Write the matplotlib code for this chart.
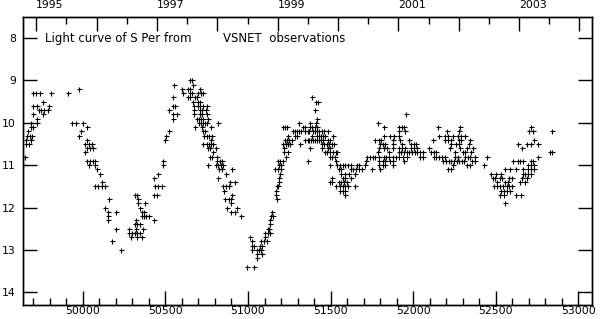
import matplotlib
matplotlib.use("Agg")
import matplotlib.pyplot as plt
from matplotlib.ticker import MultipleLocator, FixedLocator

# visual estimates: each row is (magnitude, [JD - 2400000, ...])
season_1995 = [
    (9.3, [49701, 49717, 49742, 49810]),
    (9.5, [49762]),
    (9.6, [49701, 49725, 49798]),
    (9.7, [49734, 49750, 49766, 49792]),
    (9.8, [49701, 49758]),
    (9.9, [49725]),
    (10.0, [49685, 49725]),
    (10.1, [49685, 49701]),
    (10.2, [49669]),
    (10.3, [49665, 49681, 49693]),
    (10.4, [49657, 49689]),
    (10.5, [49657, 49673]),
    (10.8, [49653]),
    (11.0, [49640]),
]

season_1996 = [
    (9.2, [49979]),
    (9.3, [49913]),
    (10.0, [49935, 49960, 50004]),
    (10.1, [50024]),
    (10.2, [49992]),
    (10.3, [49979]),
    (10.4, [50028]),
    (10.5, [50016, 50036, 50056]),
    (10.6, [50028, 50044, 50060]),
    (10.7, [50016]),
    (10.9, [50028, 50044, 50060, 50075]),
    (11.0, [50040, 50074]),
    (11.1, [50085]),
    (11.2, [50105]),
    (11.4, [50115]),
    (11.5, [50075, 50095, 50115, 50135]),
    (11.8, [50161]),
    (12.0, [50135]),
    (12.1, [50155, 50202]),
    (12.2, [50155]),
    (12.3, [50155]),
    (12.5, [50202]),
    (12.8, [50179]),
    (13.0, [50234]),
]

season_1997 = [
    (11.7, [50317, 50331, 50432, 50448]),
    (11.8, [50335]),
    (11.9, [50335, 50375]),
    (12.0, [50347]),
    (12.1, [50357, 50371]),
    (12.2, [50357, 50371, 50385, 50403]),
    (12.3, [50321, 50428]),
    (12.4, [50317, 50331, 50347]),
    (12.5, [50282, 50325, 50367]),
    (12.6, [50282, 50298, 50315, 50331, 50347]),
    (12.7, [50290, 50331, 50357]),
    (11.5, [50438, 50458, 50478]),
    (11.3, [50432]),
    (11.2, [50458]),
    (11.0, [50488]),
    (10.9, [50484]),
    (10.4, [50500]),
    (10.3, [50504]),
    (10.2, [50524]),
    (9.9, [50548]),
    (9.8, [50548, 50572]),
    (9.7, [50524]),
    (9.6, [50548, 50560]),
    (9.4, [50548]),
    (9.1, [50555]),
]

season_1998 = [
    (9.0, [50651, 50663]),
    (9.1, [50670]),
    (9.2, [50603, 50639, 50651, 50712]),
    (9.3, [50609, 50651, 50663, 50699, 50714, 50730]),
    (9.4, [50639, 50651, 50680, 50692]),
    (9.5, [50670, 50700, 50712]),
    (9.6, [50676, 50700, 50712, 50730, 50754]),
    (9.7, [50676, 50712, 50724, 50748]),
    (9.8, [50676, 50712, 50724, 50754]),
    (9.9, [50694, 50706, 50718, 50730, 50760]),
    (10.0, [50706, 50718, 50730, 50742, 50754, 50821]),
    (10.1, [50682, 50724, 50778]),
    (10.2, [50730, 50742]),
    (10.3, [50736, 50754, 50766, 50784]),
    (10.4, [50777]),
    (10.5, [50730, 50754, 50766, 50778, 50790]),
    (10.6, [50760, 50772, 50809]),
    (10.7, [50791]),
    (10.8, [50772, 50784, 50815]),
    (10.9, [50815, 50833, 50845]),
    (11.0, [50760, 50809, 50821, 50839, 50851]),
    (11.1, [50827, 50841, 50905]),
    (11.2, [50867]),
    (11.3, [50821]),
    (11.4, [50893, 50923]),
    (11.5, [50851, 50867, 50884]),
    (11.6, [50855]),
    (11.7, [50905]),
    (11.8, [50863, 50887, 50899]),
    (11.9, [50899]),
    (12.0, [50875, 50932]),
    (12.1, [50899, 50923]),
    (12.2, [50960]),
]

season_1999 = [
    (13.4, [50996, 51039]),
    (13.2, [51057]),
    (13.1, [51053, 51087]),
    (13.0, [51023, 51057, 51069, 51081]),
    (12.9, [51027, 51039, 51073, 51087]),
    (12.8, [51023, 51081, 51097, 51113]),
    (12.7, [51013, 51104]),
    (12.6, [51104, 51118, 51134]),
    (12.5, [51118, 51126]),
    (12.4, [51134]),
    (12.3, [51134]),
    (12.2, [51138, 51154]),
    (12.1, [51148]),
    (11.8, [51178]),
    (11.7, [51170]),
    (11.6, [51172]),
    (11.5, [51174, 51184]),
    (11.4, [51190]),
    (11.3, [51190]),
    (11.2, [51194]),
    (11.1, [51166, 51184, 51202]),
    (11.0, [51190, 51200]),
    (10.9, [51182, 51194, 51210, 51366]),
    (10.8, [51232, 51497, 51511, 51525]),
    (10.7, [51220, 51245, 51466, 51480, 51495, 51517, 51530]),
    (10.6, [51220, 51376, 51446, 51487, 51499]),
    (10.5, [51214, 51228, 51242, 51255, 51316, 51446, 51460, 51476, 51490, 51506, 51523]),
    (10.4, [51226, 51238, 51250, 51265, 51346, 51360, 51372, 51384, 51396, 51408,
            51420, 51432, 51444, 51456, 51487, 51499]),
    (10.3, [51245, 51287, 51299, 51386, 51416, 51428, 51440, 51452, 51466, 51513]),
    (10.2, [51275, 51287, 51299, 51311, 51323, 51347, 51360, 51372, 51396, 51408,
            51420, 51432, 51450, 51462, 51486]),
    (10.1, [51214, 51226, 51238, 51335, 51347, 51378, 51390, 51408, 51420]),
    (10.0, [51311, 51378, 51414]),
    (9.9, [51420]),
    (9.7, [51408]),
    (9.5, [51414, 51426]),
    (9.4, [51386]),
]

season_2000 = [
    (9.8, [51957]),
    (10.0, [51789]),
    (10.1, [51820, 51912, 51929, 51941]),
    (10.2, [51912, 51953]),
    (10.3, [51820, 51860, 51884, 51912]),
    (10.4, [51768, 51792, 51804, 51876, 51921, 51977]),
    (10.5, [51800, 51816, 51832, 51880, 51929, 51986, 52002, 52018]),
    (10.6, [51792, 51820, 51840, 51876, 51912, 51929, 51953, 51986, 52006, 52022]),
    (10.7, [51537, 51784, 51852, 51912, 51925, 51941, 51961, 51977, 51994, 52010, 52022]),
    (10.8, [51723, 51739, 51755, 51771, 51792, 51820, 51836, 51856, 51876, 51896,
            51916, 51937, 51961]),
    (10.9, [51533, 51715, 51792, 51816, 51832, 51860, 51876, 51941]),
    (11.0, [51497, 51541, 51557, 51573, 51589, 51606, 51622, 51658, 51670, 51707,
            51792, 51816, 51832, 51876]),
    (11.1, [51549, 51565, 51622, 51638, 51654, 51670, 51687, 51751, 51800]),
    (11.2, [51565, 51589, 51614, 51646]),
    (11.3, [51509, 51573, 51589, 51622]),
    (11.4, [51497, 51509, 51549, 51565, 51581, 51597]),
    (11.5, [51533, 51557, 51573, 51589, 51605, 51650]),
    (11.6, [51557, 51573, 51589]),
    (11.7, [51589]),
]

season_2001 = [
    (10.1, [52152, 52280]),
    (10.2, [52203, 52276]),
    (10.3, [52155, 52195, 52211, 52243, 52268, 52292, 52316]),
    (10.4, [52119, 52195, 52211, 52227, 52276, 52292, 52345]),
    (10.5, [52231, 52260, 52276, 52340]),
    (10.6, [52098, 52223, 52284, 52328, 52364]),
    (10.7, [52042, 52058, 52106, 52123, 52138, 52255, 52300, 52316, 52348]),
    (10.8, [52042, 52058, 52123, 52139, 52155, 52171, 52195, 52255, 52272, 52316,
            52332, 52344, 52376, 52449]),
    (10.9, [52183, 52199, 52215, 52231, 52247, 52263, 52279, 52295, 52308, 52357, 52372]),
    (11.0, [52243, 52328, 52344, 52429]),
    (11.1, [52211, 52227]),
]

season_2002 = [
    (10.1, [52712]),
    (10.2, [52703, 52724, 52837]),
    (10.4, [52732]),
    (10.5, [52631, 52691, 52715, 52752]),
    (10.6, [52659]),
    (10.7, [52825, 52841]),
    (10.8, [52752]),
    (10.9, [52606, 52635, 52647, 52663, 52712, 52724]),
    (11.0, [52695, 52712, 52728]),
    (11.1, [52558, 52585, 52623, 52663, 52695, 52712, 52728]),
    (11.2, [52473, 52502, 52534, 52663, 52679, 52695, 52711]),
    (11.3, [52482, 52494, 52526, 52538, 52579, 52595, 52659, 52688]),
    (11.4, [52506, 52555, 52571, 52645, 52675]),
    (11.5, [52490, 52506, 52522, 52542, 52566, 52582, 52599]),
    (11.6, [52534, 52550, 52566, 52583]),
    (11.7, [52526, 52550, 52623, 52655]),
    (11.9, [52558]),
]

seasons = [season_1995, season_1996, season_1997, season_1998,
           season_1999, season_2000, season_2001, season_2002]

# JD - 2400000 of 1 January for each year on the top axis
year_names = ["1995", "1996", "1997", "1998", "1999", "2000", "2001", "2002", "2003", "2004"]
year_jd = [49718.5, 50083.5, 50449.5, 50814.5, 51179.5, 51544.5,
           51910.5, 52275.5, 52640.5, 53005.5]

plt.rcParams["font.family"] = "DejaVu Sans"
fig = plt.figure(figsize=(6.0, 3.19), dpi=100)
ax = fig.add_axes([0.038, 0.044, 0.949, 0.903])

jd, mag = [], []
for season in seasons:
    for m, days in season:
        jd.extend(days)
        mag.extend([m] * len(days))

ax.plot(jd, mag, linestyle="none", marker="+", markersize=3.6, markeredgewidth=0.8, color="black")

ax.set_xlim(49637, 53083)
ax.set_ylim(14.3, 7.5)

ax.xaxis.set_major_locator(MultipleLocator(500))
ax.xaxis.set_minor_locator(MultipleLocator(100))
ax.yaxis.set_major_locator(MultipleLocator(1))
ax.tick_params(which="both", direction="in", top=False, right=True, width=1, labelsize=7.8)
ax.tick_params(which="major", length=10)
ax.tick_params(which="minor", length=5)
ax.tick_params(axis="x", pad=1)
ax.tick_params(axis="y", pad=5)

top = ax.twiny()
top.set_xlim(ax.get_xlim())
top.xaxis.set_major_locator(FixedLocator(year_jd))
half_years = [(a + b) / 2 for a, b in zip(year_jd[:-1], year_jd[1:])]
top.xaxis.set_minor_locator(FixedLocator(half_years))
top.set_xticklabels([y if int(y) % 2 == 1 else "" for y in year_names])
for lab in top.get_xticklabels():
    lab.set_horizontalalignment("left")
top.tick_params(which="both", direction="in", width=1, labelsize=7.8, pad=5)
top.tick_params(which="major", length=10)
top.tick_params(which="minor", length=5)

for a in (ax, top):
    for s in a.spines.values():
        s.set_linewidth(1)

ax.text(49772, 8.0, "Light curve of S Per from", fontsize=8.5, va="center", ha="left")
ax.text(50849, 8.0, "VSNET  observations", fontsize=8.5, va="center", ha="left")

fig.savefig("out.png", dpi=100)
